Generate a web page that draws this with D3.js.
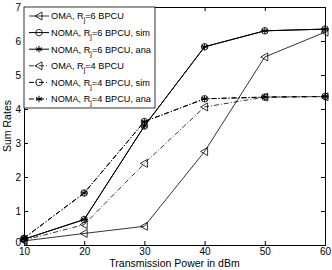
<!DOCTYPE html>
<html>
<head>
<meta charset="utf-8">
<script src="https://cdn.jsdelivr.net/npm/d3@7"></script>
<style>
  body { margin: 0; background: #fff; }
  text { font-family: "Liberation Sans", Arial, sans-serif; }
</style>
</head>
<body>
<div id="chart"></div>
<script>
const powers = [10, 20, 30, 40, 50, 60];
const omaR6 = [0.12, 0.34, 0.55, 2.75, 5.53, 6.26];
const nomaR6Sim = [0.17, 0.75, 3.5, 5.83, 6.3, 6.35];
const nomaR6Ana = [0.17, 0.75, 3.5, 5.83, 6.3, 6.35];
const omaR4 = [0.14, 0.6, 2.4, 4.06, 4.35, 4.36];
const nomaR4Sim = [0.2, 1.53, 3.63, 4.3, 4.35, 4.37];
const nomaR4Ana = [0.2, 1.53, 3.63, 4.3, 4.35, 4.37];
const xTicks = [10, 20, 30, 40, 50, 60];
const yTicks = [0, 1, 2, 3, 4, 5, 6, 7];

const series = [
  { name: "OMA, R", rate: "6", tail: " BPCU", values: omaR6, marker: "tri", dash: null, width: 0.8 },
  { name: "NOMA, R", rate: "6", tail: " BPCU, sim", values: nomaR6Sim, marker: "circle", dash: null, width: 1 },
  { name: "NOMA, R", rate: "6", tail: " BPCU, ana", values: nomaR6Ana, marker: "star", dash: null, width: 1 },
  { name: "OMA, R", rate: "4", tail: " BPCU", values: omaR4, marker: "tri", dash: "5,2,1,2", width: 0.8 },
  { name: "NOMA, R", rate: "4", tail: " BPCU, sim", values: nomaR4Sim, marker: "circle", dash: "5,2,1,2", width: 1 },
  { name: "NOMA, R", rate: "4", tail: " BPCU, ana", values: nomaR4Ana, marker: "star", dash: "5,2,1,2", width: 1 }
];

const size = { width: 332, height: 270, margin: { top: 7, right: 7, bottom: 25, left: 24 } };

const svg = d3.select("#chart").append("svg")
  .attr("width", size.width)
  .attr("height", size.height);

const x = d3.scaleLinear().domain([10, 60]).range([size.margin.left, size.width - size.margin.right]);
const y = d3.scaleLinear().domain([0, 7]).range([size.height - size.margin.bottom, size.margin.top]);

// ticks inward, on all four sides
const ax = svg.append("g").attr("font-size", 9);
ax.append("g").attr("transform", `translate(0,${y(0)})`)
  .call(d3.axisBottom(x).tickValues(xTicks).tickSize(-4).tickPadding(3).tickFormat(d3.format("d")));
ax.append("g").attr("transform", `translate(0,${y(7)})`)
  .call(d3.axisTop(x).tickValues(xTicks).tickSize(-4).tickFormat(""));
const yAxis = ax.append("g").attr("transform", `translate(${x(10)},0)`)
  .call(d3.axisLeft(y).tickValues(yTicks).tickSize(-4).tickPadding(3).tickFormat(d3.format("d")));
ax.append("g").attr("transform", `translate(${x(60)},0)`)
  .call(d3.axisRight(y).tickValues(yTicks).tickSize(-4).tickFormat(""));
ax.selectAll(".domain").attr("stroke", "#000");
ax.selectAll(".tick line").attr("stroke", "#000");
ax.selectAll("text").attr("fill", "#000").attr("font-family", "Liberation Sans, Arial, sans-serif");
// the 0 label sits in the corner, lift it clear of the "10"
yAxis.selectAll(".tick text").filter(d => d === 0).attr("dy", "0.05em");

function drawMarker(g, type, cx, cy) {
  if (type === "tri") {
    g.append("path")
      .attr("d", `M${cx - 4},${cy} L${cx + 3},${cy - 4} L${cx + 3},${cy + 4} Z`)
      .attr("fill", "none").attr("stroke", "#000").attr("stroke-width", 0.8);
  } else if (type === "circle") {
    g.append("circle").attr("cx", cx).attr("cy", cy).attr("r", 3.3)
      .attr("fill", "none").attr("stroke", "#000").attr("stroke-width", 0.8);
  } else {
    const r = 3.2;
    [0, 60, 120].forEach(a => {
      const t = a * Math.PI / 180;
      g.append("line")
        .attr("x1", cx - r * Math.sin(t)).attr("y1", cy - r * Math.cos(t))
        .attr("x2", cx + r * Math.sin(t)).attr("y2", cy + r * Math.cos(t))
        .attr("stroke", "#000").attr("stroke-width", 1);
    });
    g.append("line").attr("x1", cx - r).attr("x2", cx + r).attr("y1", cy).attr("y2", cy)
      .attr("stroke", "#000").attr("stroke-width", 1);
  }
}

const line = d3.line().x((d, i) => x(powers[i])).y(d => y(d));
const plot = svg.append("g");
series.forEach(s => {
  plot.append("path").datum(s.values)
    .attr("d", line)
    .attr("fill", "none")
    .attr("stroke", "#000")
    .attr("stroke-width", s.width)
    .attr("stroke-dasharray", s.dash);
  s.values.forEach((v, i) => drawMarker(plot, s.marker, x(powers[i]), y(v)));
});

// legend
const leg = svg.append("g");
leg.append("rect")
  .attr("x", x(10)).attr("y", y(7))
  .attr("width", 131).attr("height", 101)
  .attr("fill", "#fff").attr("stroke", "#000").attr("stroke-width", 0.8);
series.forEach((s, i) => {
  const ly = 16 + i * 16.6;
  leg.append("line").attr("x1", 29).attr("x2", 49).attr("y1", ly).attr("y2", ly)
    .attr("stroke", "#000").attr("stroke-width", s.width).attr("stroke-dasharray", s.dash);
  drawMarker(leg, s.marker, 39, ly);
  const t = leg.append("text").attr("x", 51).attr("y", ly + 3.3).attr("font-size", 9.2).attr("fill", "#000");
  t.append("tspan").text(s.name);
  t.append("tspan").attr("dy", 3).attr("font-size", 7).text("j");
  t.append("tspan").attr("dy", -3).text("=" + s.rate + s.tail);
});

// axis titles
svg.append("text")
  .attr("x", (x(10) + x(60)) / 2).attr("y", 267)
  .attr("text-anchor", "middle").attr("font-size", 10.5).attr("fill", "#000")
  .text("Transmission Power in dBm");
svg.append("text")
  .attr("transform", `translate(11,${(y(0) + y(7)) / 2}) rotate(-90)`)
  .attr("text-anchor", "middle").attr("font-size", 10.5).attr("fill", "#000")
  .text("Sum Rates");
</script>
</body>
</html>
